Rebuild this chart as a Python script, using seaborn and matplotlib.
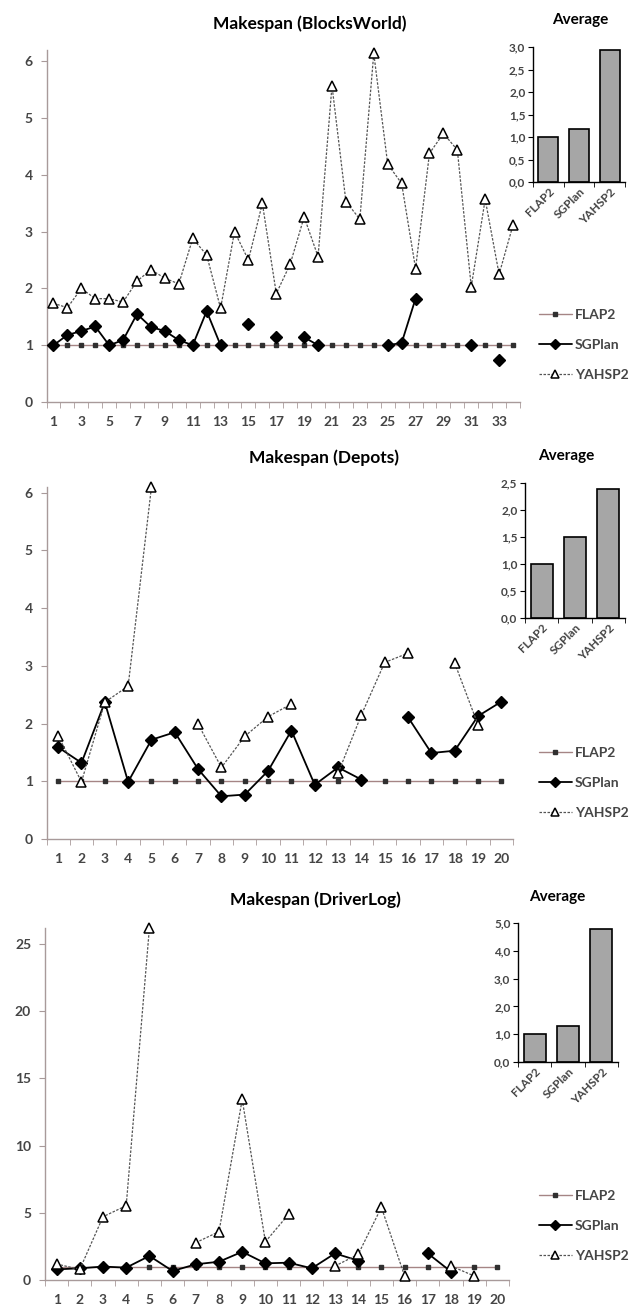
import numpy as np
import pandas as pd
import matplotlib
matplotlib.use("Agg")
import matplotlib.pyplot as plt
from matplotlib.lines import Line2D
from matplotlib.ticker import MultipleLocator, FixedLocator, FuncFormatter
import seaborn as sns

nan = np.nan

# ---------------- data ----------------
planners = ["FLAP2", "SGPlan", "YAHSP2"]

bw_problems = list(range(1, 35))
bw_flap2 = [1.00, 1.00, 1.00, 1.00, 1.00, 1.00, 1.00, 1.00, 1.00, 1.00,
            1.00, 1.00, 1.00, 1.00, 1.00, 1.00, 1.00, 1.00, 1.00, 1.00,
            1.00, 1.00, 1.00, 1.00, 1.00, 1.00, 1.00, 1.00, 1.00, 1.00,
            1.00, 1.00, 1.00, 1.00]
bw_sgplan = [1.00, 1.18, 1.25, 1.33, 1.00, 1.09, 1.55, 1.32, 1.25, 1.09,
             1.00, 1.60, 1.00, nan, 1.37, nan, 1.15, nan, 1.14, 1.00,
             nan, nan, nan, nan, 1.00, 1.04, 1.82, nan, nan, nan,
             1.00, nan, 0.74, nan]
bw_yahsp2 = [1.74, 1.66, 2.00, 1.82, 1.82, 1.76, 2.13, 2.33, 2.18, 2.08,
             2.88, 2.59, 1.65, 3.00, 2.50, 3.50, 1.91, 2.43, 3.26, 2.56,
             5.57, 3.53, 3.22, 6.14, 4.19, 3.85, 2.35, 4.38, 4.73, 4.44,
             2.03, 3.57, 2.25, 3.12]
bw_avg = [1.00, 1.18, 2.93]

dp_problems = list(range(1, 21))
dp_flap2 = [1.00, 1.00, 1.00, 1.00, 1.00, 1.00, 1.00, 1.00, 1.00, 1.00,
            1.00, 1.00, 1.00, 1.00, 1.00, 1.00, 1.00, 1.00, 1.00, 1.00]
dp_sgplan = [1.59, 1.32, 2.37, 0.99, 1.72, 1.85, 1.21, 0.74, 0.77, 1.18,
             1.88, 0.94, 1.24, 1.03, nan, 2.11, 1.49, 1.53, 2.13, 2.38]
dp_yahsp2 = [1.79, 0.99, 2.37, 2.65, 6.10, nan, 1.99, 1.24, 1.78, 2.12,
             2.34, nan, 1.14, 2.15, 3.06, 3.22, nan, 3.05, 1.98, nan]
dp_avg = [1.00, 1.50, 2.38]

dl_problems = list(range(1, 21))
dl_flap2 = [1.00, 1.00, 1.00, 1.00, 1.00, 1.00, 1.00, 1.00, 1.00, 1.00,
            1.00, 1.00, 1.00, 1.00, 1.00, 1.00, 1.00, 1.00, 1.00, 1.00]
dl_sgplan = [0.79, 0.87, 1.00, 0.92, 1.79, 0.67, 1.17, 1.36, 2.10, 1.24,
             1.29, 0.87, 1.98, 1.44, nan, nan, 1.98, 0.62, nan, nan]
dl_yahsp2 = [1.19, 0.79, 4.71, 5.53, 26.20, nan, 2.78, 3.60, 13.44, 2.85,
             4.89, nan, 1.04, 1.91, 5.41, 0.30, nan, 1.04, 0.30, nan]
dl_avg = [1.00, 1.28, 4.78]

titles = ["Makespan (BlocksWorld)", "Makespan (Depots)", "Makespan (DriverLog)"]

# ---------------- style ----------------
sns.set_style("white")
plt.rcParams["font.family"] = ["Lato", "DejaVu Sans"]

AXCOL = "#a89a9a"
TXT = "#454545"
FLAPCOL = "#a58585"

styles = {
    "FLAP2": dict(color=FLAPCOL, lw=1.0, ls="-", marker="s", ms=3.2,
                  mfc="#303030", mec="#303030", zorder=2),
    "SGPlan": dict(color="black", lw=1.3, ls="-", marker="D", ms=6.5,
                   mfc="black", mec="black", zorder=3),
    "YAHSP2": dict(color="#555555", lw=0.9, ls=(0, (2.0, 1.2)), marker="^", ms=6.5,
                   mfc="white", mec="black", mew=1.1, zorder=4),
}

fig = plt.figure(figsize=(6.34, 13.07), dpi=100)
W, H = 634.0, 1307.0


def fr(x0, y0, x1, y1):
    return [x0 / W, 1 - y1 / H, (x1 - x0) / W, (y1 - y0) / H]


panels = [
    dict(x=bw_problems, series=[bw_flap2, bw_sgplan, bw_yahsp2], avg=bw_avg,
         main=fr(46.5, 50, 520, 402), ylim=6.2, ystep=1,
         xlabels=list(range(1, 35, 2)),
         inset=fr(533, 47, 625, 182), iylim=3.0, istep=0.5,
         title=titles[0], tpos=(310, 24), apos=(580, 20),
         leg_y=345),
    dict(x=dp_problems, series=[dp_flap2, dp_sgplan, dp_yahsp2], avg=dp_avg,
         main=fr(46.5, 487, 513, 839), ylim=6.1, ystep=1,
         xlabels=dp_problems,
         inset=fr(525, 483, 625, 618), iylim=2.5, istep=0.5,
         title=titles[1], tpos=(324, 458), apos=(566, 456),
         leg_y=783),
    dict(x=dl_problems, series=[dl_flap2, dl_sgplan, dl_yahsp2], avg=dl_avg,
         main=fr(45, 928, 509, 1280), ylim=26.2, ystep=5,
         xlabels=dl_problems,
         inset=fr(518, 923, 618, 1062), iylim=5.0, istep=1.0,
         title=titles[2], tpos=(315, 900), apos=(557, 897),
         leg_y=1226),
]

for p in panels:
    ax = fig.add_axes(p["main"])
    n = len(p["x"])
    for name, vals in zip(planners, p["series"]):
        arr = np.array(vals, dtype=float)
        seg = np.cumsum(np.isnan(arr))
        df = pd.DataFrame({"problem": p["x"], "value": arr, "seg": seg}).dropna()
        st = styles[name]
        sns.lineplot(data=df, x="problem", y="value", units="seg", estimator=None,
                     ax=ax, color=st["color"], linewidth=st["lw"], linestyle=st["ls"],
                     marker=st["marker"], markersize=st["ms"],
                     markerfacecolor=st["mfc"], markeredgecolor=st["mec"],
                     markeredgewidth=st.get("mew", 1.0), zorder=st["zorder"],
                     legend=False, clip_on=False)
    ax.set_xlim(0.5, n + 0.5)
    ax.set_ylim(0, p["ylim"])
    ax.set_xlabel("")
    ax.set_ylabel("")
    for s in ["top", "right"]:
        ax.spines[s].set_visible(False)
    for s in ["left", "bottom"]:
        ax.spines[s].set_color(AXCOL)
        ax.spines[s].set_linewidth(1.0)
    ax.yaxis.set_major_locator(MultipleLocator(p["ystep"]))
    ax.yaxis.set_major_formatter(FuncFormatter(lambda v, pos: f"{v:.0f}"))
    ax.set_xticks(p["xlabels"])
    ax.xaxis.set_minor_locator(FixedLocator(np.arange(0.5, n + 1, 1.0)))
    ax.tick_params(axis="x", which="major", length=0, pad=10, labelsize=10,
                   labelcolor=TXT)
    ax.tick_params(axis="x", which="minor", length=4, color=AXCOL, direction="out",
                   bottom=True)
    ax.tick_params(axis="y", which="major", length=4, color=AXCOL, direction="out",
                   left=True, labelsize=10, labelcolor=TXT, pad=6)
    for lab in ax.get_xticklabels() + ax.get_yticklabels():
        lab.set_fontweight("bold")

    fig.text(p["tpos"][0] / W, 1 - p["tpos"][1] / H, p["title"], ha="center",
             va="center", fontsize=12.5, fontweight="bold", color="black")
    fig.text(p["apos"][0] / W, 1 - p["apos"][1] / H, "Average", ha="center",
             va="center", fontsize=11, fontweight="bold", color="black")

    # inset with averages
    ia = fig.add_axes(p["inset"])
    sns.barplot(x=planners, y=p["avg"], ax=ia, color="#a6a6a6", saturation=1,
                edgecolor="black", linewidth=1.2, width=0.66)
    ia.set_xlim(-0.5, 2.5)
    ia.set_ylim(0, p["iylim"])
    for s in ["top", "right"]:
        ia.spines[s].set_visible(False)
    for s in ["left", "bottom"]:
        ia.spines[s].set_color("black")
        ia.spines[s].set_linewidth(1.0)
    ia.yaxis.set_major_locator(MultipleLocator(p["istep"]))
    ia.yaxis.set_major_formatter(FuncFormatter(lambda v, pos: f"{v:.1f}".replace(".", ",")))
    ia.xaxis.set_minor_locator(FixedLocator([-0.5, 0.5, 1.5, 2.5]))
    ia.tick_params(axis="x", which="major", length=0, pad=3, labelsize=8.5,
                   labelcolor=TXT)
    ia.tick_params(axis="x", which="minor", length=3.5, color="black",
                   direction="out", bottom=True)
    ia.tick_params(axis="y", which="major", length=3.5, color="black",
                   direction="out", left=True, labelsize=8.5, labelcolor=TXT, pad=2)
    for lab in ia.get_xticklabels():
        lab.set_rotation(45)
        lab.set_ha("right")
        lab.set_rotation_mode("anchor")
        lab.set_fontweight("bold")
    for lab in ia.get_yticklabels():
        lab.set_fontweight("bold")

    # legend
    handles = []
    for name in planners:
        st = styles[name]
        handles.append(Line2D([0], [0], color=st["color"], lw=st["lw"], ls=st["ls"],
                              marker=st["marker"], ms=st["ms"] * 0.8,
                              mfc=st["mfc"], mec=st["mec"],
                              mew=st.get("mew", 1.0)))
    leg = fig.legend(handles, planners, loc="center left",
                     bbox_to_anchor=(533 / W, 1 - p["leg_y"] / H),
                     frameon=False, fontsize=10, handlelength=2.4,
                     labelspacing=1.3, handletextpad=0.2, borderaxespad=0)
    for t in leg.get_texts():
        t.set_color(TXT)
        t.set_fontweight("bold")

fig.savefig("out.png", dpi=100, facecolor="white")
